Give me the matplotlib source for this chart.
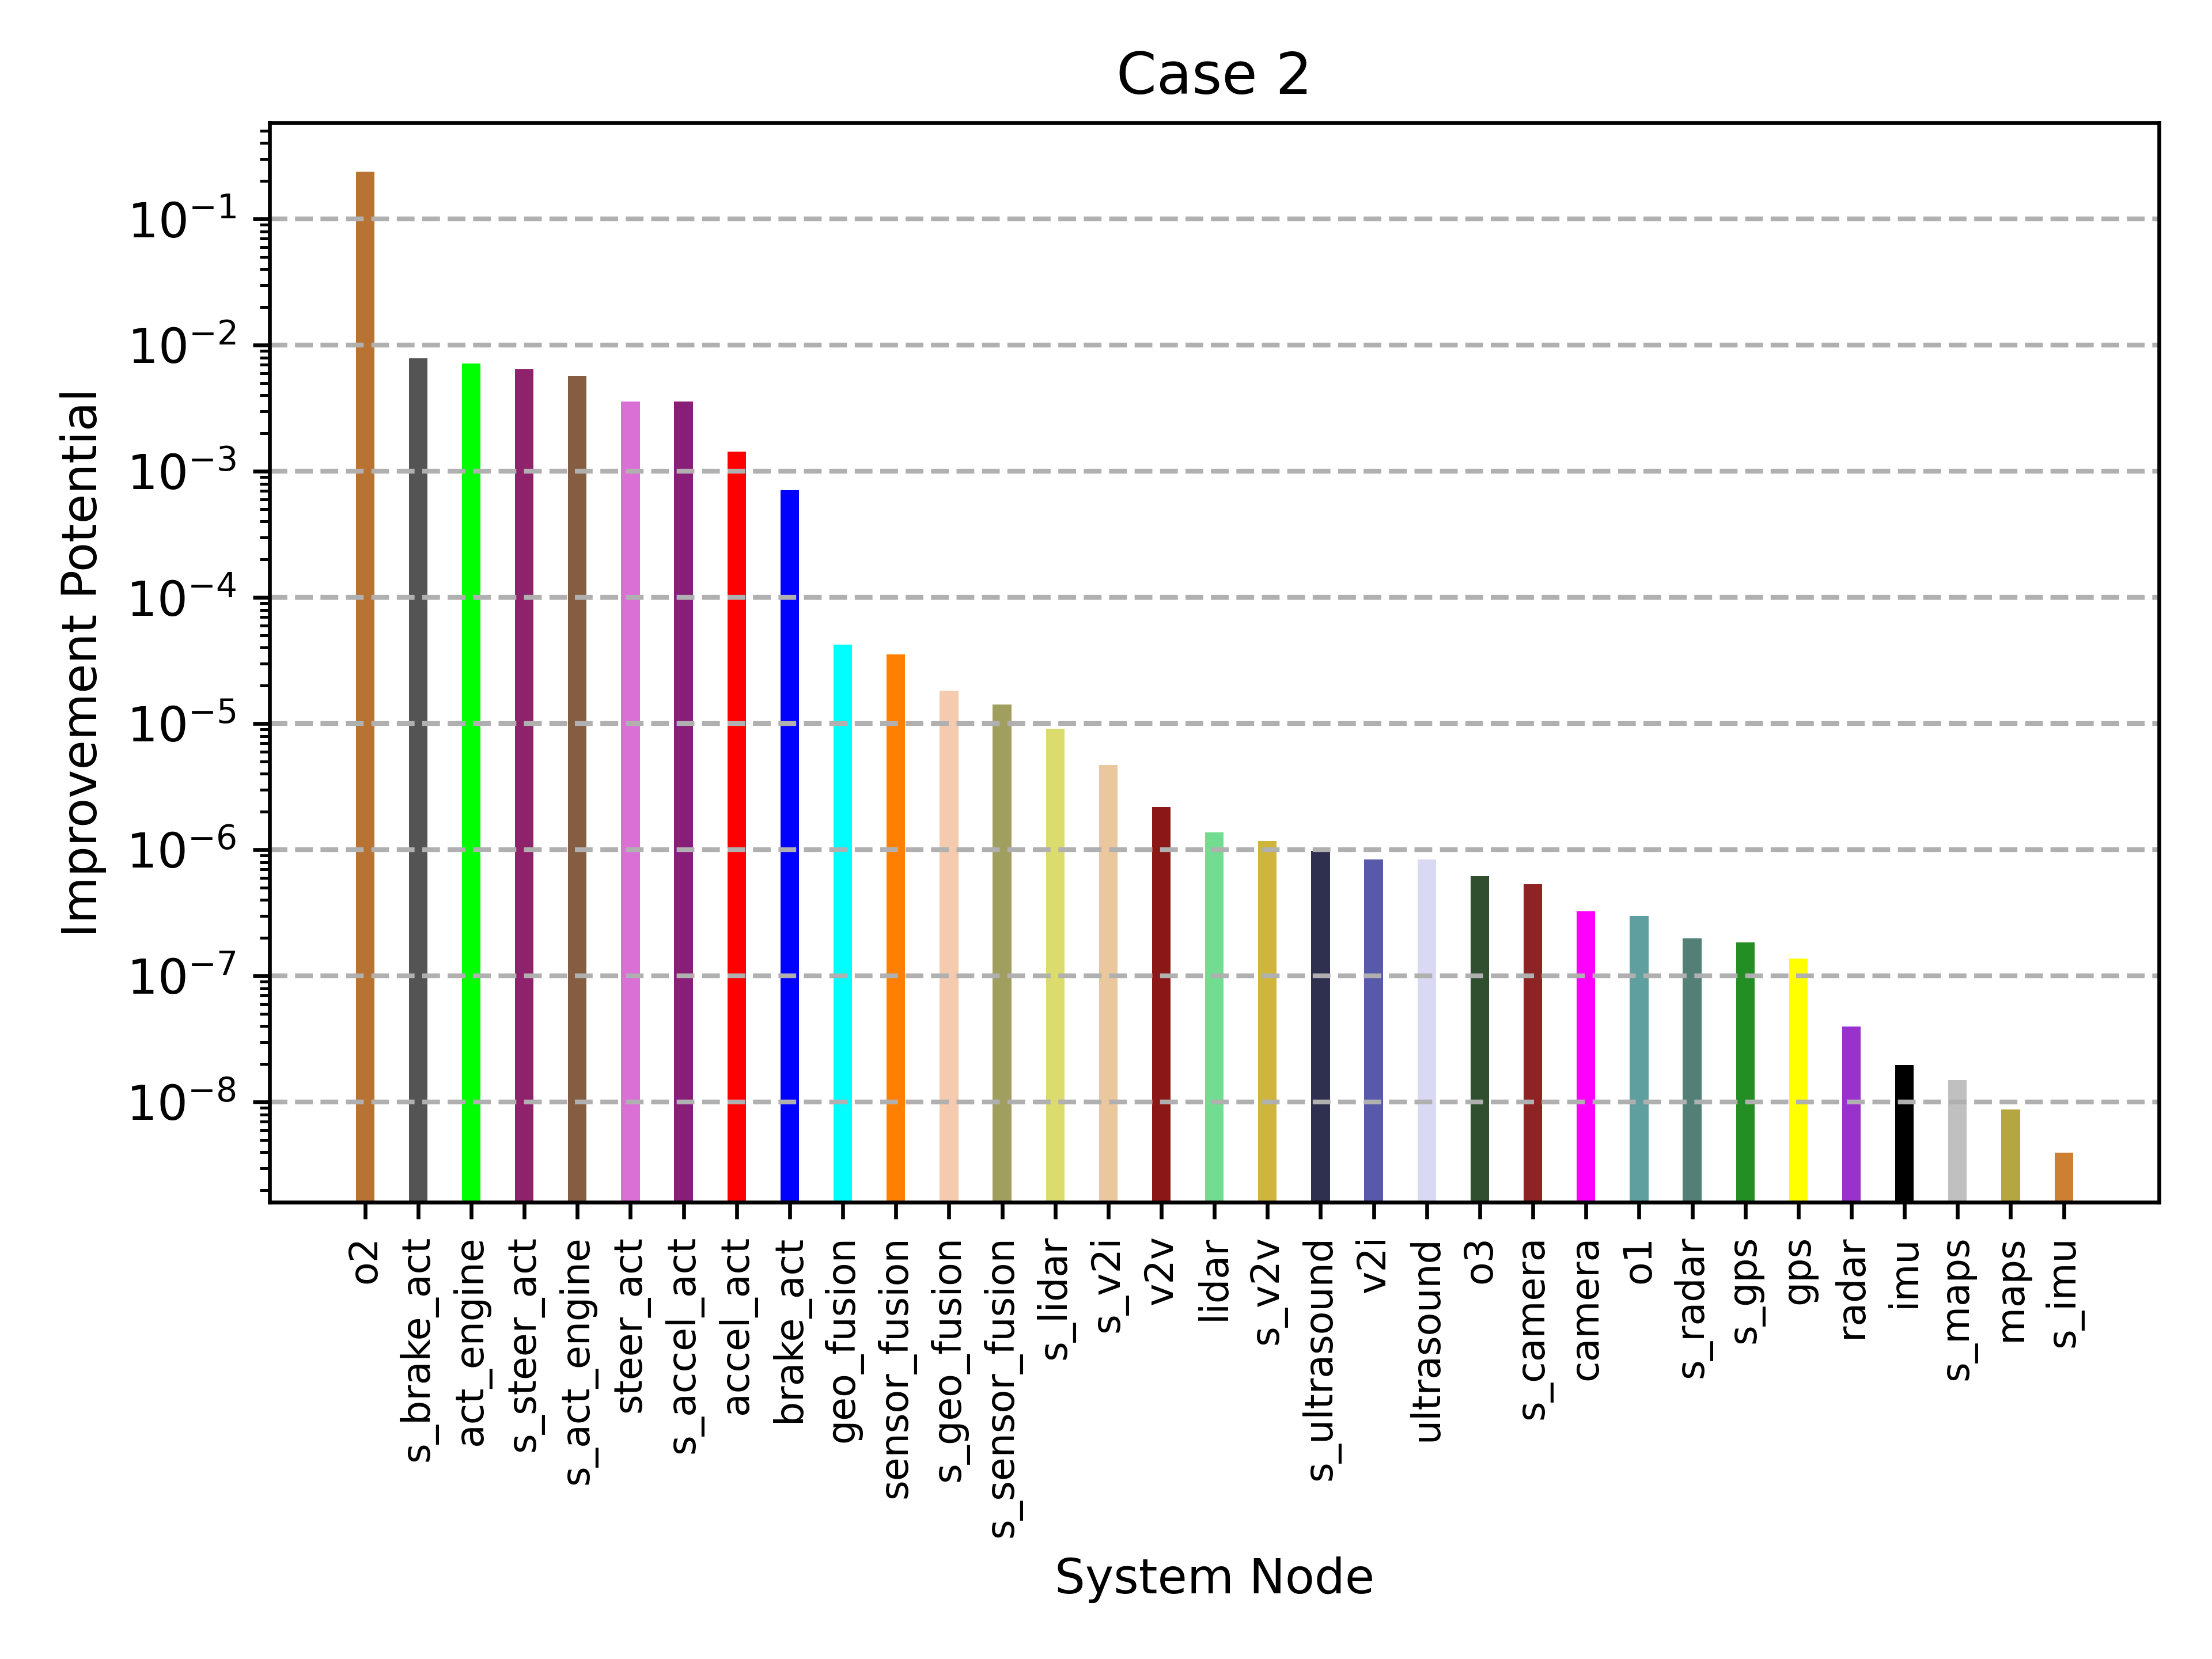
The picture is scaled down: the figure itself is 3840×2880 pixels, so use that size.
import matplotlib
matplotlib.use("Agg")
import matplotlib.pyplot as plt

# nodes sorted by improvement potential (case 2)
nodes = ["o2", "s_brake_act", "act_engine", "s_steer_act", "s_act_engine",
         "steer_act", "s_accel_act", "accel_act", "brake_act", "geo_fusion",
         "sensor_fusion", "s_geo_fusion", "s_sensor_fusion", "s_lidar", "s_v2i",
         "v2v", "lidar", "s_v2v", "s_ultrasound", "v2i", "ultrasound", "o3",
         "s_camera", "camera", "o1", "s_radar", "s_gps", "gps", "radar", "imu",
         "s_maps", "maps", "s_imu"]

potential = [2.37e-1, 7.86e-3, 7.16e-3, 6.43e-3, 5.70e-3,
             3.57e-3, 3.57e-3, 1.43e-3, 7.11e-4, 4.23e-5,
             3.55e-5, 1.82e-5, 1.42e-5, 9.09e-6, 4.69e-6,
             2.18e-6, 1.37e-6, 1.175e-6, 9.86e-7, 8.38e-7, 8.38e-7, 6.21e-7,
             5.32e-7, 3.26e-7, 2.98e-7, 1.98e-7, 1.84e-7, 1.37e-7, 3.98e-8, 1.97e-8,
             1.50e-8, 8.77e-9, 3.96e-9]

colors = ["#b87333", "#545454", "#00ff00", "#8e236b", "#855e42",
          "#da70d6", "#871f78", "#ff0000", "#0000ff", "#00ffff",
          "#ff7f00", "#f4cbaf", "#a19f60", "#dcdc6e", "#eac79c",
          "#8c1717", "#72dc90", "#cfb53b", "#2f2f4f", "#5959ab", "#d9d9f3", "#2f4f2f",
          "#8e2323", "#ff00ff", "#5f9f9f", "#527f76", "#238e23", "#ffff00", "#9932cd", "#000000",
          "#c0c0c0", "#b5a642", "#cd7f32"]

fig, ax = plt.subplots(figsize=(6.4, 4.8), dpi=600)
fig.subplots_adjust(left=0.122, right=0.976, top=0.926, bottom=0.2755)

x = range(len(nodes))
ax.bar(x, potential, width=0.35, color=colors)
ax.set_yscale("log")
ax.grid(True, axis="y", which="major", linestyle="--", linewidth=1.0, color="#b0b0b0")

ax.set_xticks(list(x))
ax.set_xticklabels(nodes, rotation=90, fontsize=8)
ax.set_xlabel("System Node")
ax.set_ylabel("Improvement Potential")
ax.set_title("Case 2")

fig.savefig("out.png", dpi=600)
